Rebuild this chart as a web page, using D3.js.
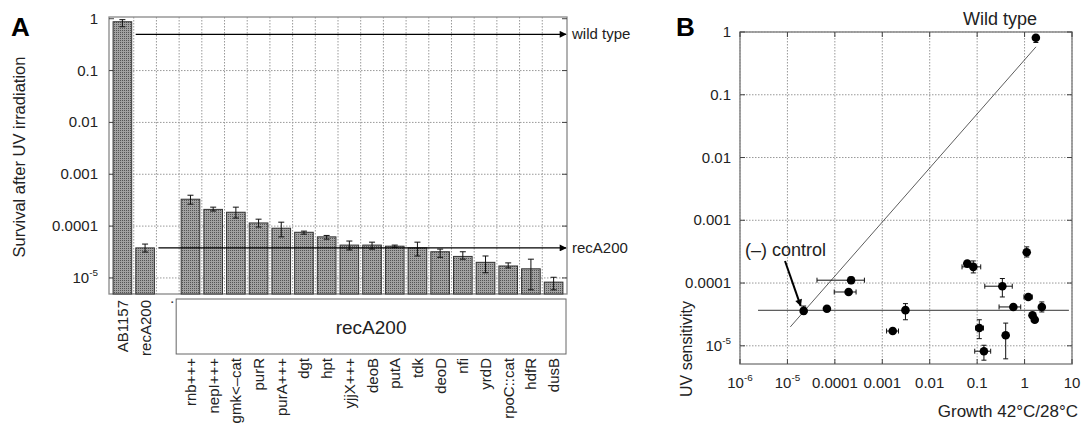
<!DOCTYPE html>
<html>
<head>
<meta charset="utf-8">
<script src="https://cdn.jsdelivr.net/npm/d3@7"></script>
<style>
  body { margin: 0; background: #fff; }
  svg { display: block; font-family: "Liberation Sans", Arial, sans-serif; }
</style>
</head>
<body>
<div id="chart"></div>
<script>
// ---- panel A data: survival after UV irradiation
const strains = ["AB1157", "recA200", ".", "rnb+++", "nepI+++", "gmk<\u2013cat", "purR", "purA+++", "dgt", "hpt",
  "yjjX+++", "deoB", "putA", "tdk", "deoD", "nfi", "yrdD", "rpoC::cat", "hdfR", "dusB"];
const survival = [0.875, 3.8e-5, null, 3.3e-4, 2.1e-4, 1.85e-4, 1.15e-4, 9.1e-5, 7.6e-5, 6.2e-5,
  4.3e-5, 4.3e-5, 4.1e-5, 3.8e-5, 3.2e-5, 2.6e-5, 2.0e-5, 1.7e-5, 1.5e-5, 8.3e-6];
const survivalLo = [0.70, 3.16e-5, null, 2.65e-4, 1.95e-4, 1.43e-4, 9.6e-5, 6.2e-5, 7.0e-5, 5.6e-5,
  3.47e-5, 3.6e-5, 3.9e-5, 2.65e-5, 2.5e-5, 2.3e-5, 1.26e-5, 1.56e-5, 5.9e-6, 5.9e-6];
const survivalHi = [0.96, 4.5e-5, null, 3.94e-4, 2.32e-4, 2.32e-4, 1.36e-4, 1.19e-4, 8.0e-5, 6.6e-5,
  5.15e-5, 4.9e-5, 4.3e-5, 4.9e-5, 3.6e-5, 3.2e-5, 2.65e-5, 1.95e-5, 2.3e-5, 1.03e-5];
const refLines = [{ label: "wild type", value: 0.5, from: "AB1157" }, { label: "recA200", value: 3.8e-5, from: "recA200" }];
const yTicksA = [1, 0.1, 0.01, 0.001, 0.0001, 1e-5];

// ---- panel B data: UV sensitivity vs growth 42/28
const growth =    [2.2e-5, 6.8e-5, 2.2e-4, 1.95e-4, 1.66e-3, 3.08e-3, 0.062, 0.083, 0.34, 1.11, 1.2, 0.58, 2.31, 1.47, 1.64, 0.111, 0.40, 0.139, 1.73];
const growthLo =  [null, null, 4.2e-5, 9.7e-5, 1.23e-3, null, null, 0.048, 0.145, null, 0.97, 0.29, null, null, null, 0.093, null, 0.089, null];
const growthHi =  [null, null, 4.2e-4, 2.8e-4, 2.2e-3, null, null, 0.119, 0.55, null, 1.45, 0.83, null, null, null, 0.136, null, 0.193, null];
const uvSens =    [3.6e-5, 3.9e-5, 1.11e-4, 7.2e-5, 1.72e-5, 3.7e-5, 2.04e-4, 1.81e-4, 8.9e-5, 3.1e-4, 6.0e-5, 4.16e-5, 4.16e-5, 3.06e-5, 2.6e-5, 1.92e-5, 1.47e-5, 8.2e-6, 0.81];
const uvSensLo =  [3.2e-5, null, 9.8e-5, null, null, 2.6e-5, null, 1.45e-4, 6.0e-5, 2.6e-4, null, null, 3.46e-5, null, null, 1.3e-5, 6.2e-6, 5.9e-6, 0.68];
const uvSensHi =  [4.3e-5, null, 1.25e-4, null, null, 4.7e-5, null, 2.25e-4, 1.18e-4, 3.77e-4, null, null, 5.0e-5, null, null, 2.6e-5, 2.3e-5, 1.02e-5, 0.84];
const fitX = [1.15e-5, 1.74];
const fitY = [2.0e-5, 0.58];
const controlX = [2.4e-6, 8.6];
const controlY = 3.68e-5;
const xTicksB = [1e-6, 1e-5, 1e-4, 1e-3, 0.01, 0.1, 1, 10];
const yTicksB = [1, 0.1, 0.01, 0.001, 0.0001, 1e-5];

const W = 1088, H = 424;
const svg = d3.select("#chart").append("svg").attr("width", W).attr("height", H);

const defs = svg.append("defs");
const pat = defs.append("pattern").attr("id", "dots").attr("width", 2).attr("height", 2).attr("patternUnits", "userSpaceOnUse");
pat.append("rect").attr("width", 2).attr("height", 2).attr("fill", "#a2a2a2");
pat.append("rect").attr("width", 1).attr("height", 1).attr("fill", "#555");
defs.append("marker").attr("id", "arrow").attr("viewBox", "0 0 10 10").attr("refX", 9).attr("refY", 5)
  .attr("markerWidth", 9).attr("markerHeight", 7).attr("markerUnits", "userSpaceOnUse").attr("orient", "auto")
  .append("path").attr("d", "M0,0L10,5L0,10z").attr("fill", "#000");

// label for log tick: decimal or 10^n for small values
function tickLabel(sel, v, x, y, anchor, size) {
  const t = sel.append("text").attr("x", x).attr("y", y).attr("text-anchor", anchor)
    .attr("font-size", size).attr("fill", "#222");
  if (v < 1e-4) {
    const e = Math.round(Math.log10(v));
    t.append("tspan").text("10");
    t.append("tspan").attr("dy", -7).attr("font-size", size * 0.66).text(e);
  } else {
    t.text(v === 0.0001 ? "0.0001" : String(v));
  }
  return t;
}

// ================= panel A =================
const ax = d3.scaleBand().domain(strains).range([109, 567]).paddingInner(0.18).paddingOuter(0.18);
const ay = d3.scaleLog().domain([4.9e-6, 1.08]).range([294, 17]);
const gA = svg.append("g");

// grid
gA.selectAll(".hg").data(yTicksA.slice(1)).join("line")
  .attr("x1", 109).attr("x2", 567).attr("y1", d => ay(d)).attr("y2", d => ay(d))
  .attr("stroke", "#999").attr("stroke-dasharray", "1.5,1.5");
gA.selectAll(".vg").data(strains.slice(1)).join("line")
  .attr("x1", d => ax(d) - ax.step() * 0.09).attr("x2", d => ax(d) - ax.step() * 0.09)
  .attr("y1", 17).attr("y2", 294)
  .attr("stroke", "#999").attr("stroke-dasharray", "1.5,1.5");

gA.append("rect").attr("x", 109).attr("y", 17).attr("width", 458).attr("height", 277)
  .attr("fill", "none").attr("stroke", "#888").attr("stroke-width", 1.3);
gA.selectAll(".tk").data(yTicksA).join("g").each(function (d) {
  const g = d3.select(this);
  g.append("line").attr("x1", 109).attr("x2", 114).attr("y1", ay(d)).attr("y2", ay(d)).attr("stroke", "#444");
  g.append("line").attr("x1", 562).attr("x2", 567).attr("y1", ay(d)).attr("y2", ay(d)).attr("stroke", "#444");
  tickLabel(g, d, 98, ay(d) + 5, "end", 15);
});

const barData = strains.map((s, i) => ({ s, v: survival[i], lo: survivalLo[i], hi: survivalHi[i] })).filter(d => d.v != null);
gA.selectAll(".bar").data(barData).join("rect")
  .attr("x", d => ax(d.s)).attr("width", ax.bandwidth())
  .attr("y", d => ay(d.v)).attr("height", d => 294 - ay(d.v))
  .attr("fill", "url(#dots)").attr("stroke", "#333").attr("stroke-width", 1);

const eb = gA.selectAll(".eb").data(barData).join("g").attr("stroke", "#111").attr("stroke-width", 1);
eb.append("line").attr("x1", d => ax(d.s) + ax.bandwidth() / 2).attr("x2", d => ax(d.s) + ax.bandwidth() / 2)
  .attr("y1", d => ay(d.lo)).attr("y2", d => ay(d.hi));
eb.append("line").attr("x1", d => ax(d.s) + ax.bandwidth() / 2 - 3).attr("x2", d => ax(d.s) + ax.bandwidth() / 2 + 3)
  .attr("y1", d => ay(d.lo)).attr("y2", d => ay(d.lo));
eb.append("line").attr("x1", d => ax(d.s) + ax.bandwidth() / 2 - 3).attr("x2", d => ax(d.s) + ax.bandwidth() / 2 + 3)
  .attr("y1", d => ay(d.hi)).attr("y2", d => ay(d.hi));

// reference arrows
refLines.forEach(r => {
  const x0 = ax(r.from) + ax.bandwidth() + 4;
  gA.append("line").attr("x1", x0).attr("x2", 566).attr("y1", ay(r.value)).attr("y2", ay(r.value))
    .attr("stroke", "#000").attr("stroke-width", 1.2).attr("marker-end", "url(#arrow)");
  gA.append("text").attr("x", 572).attr("y", ay(r.value) + 5).attr("font-size", 15).attr("fill", "#222").text(r.label);
});

// category labels
gA.selectAll(".xl").data(strains).join("text")
  .attr("transform", (d, i) => `translate(${ax(d) + ax.bandwidth() / 2 + 5.5},${i < 3 ? 300 : 358}) rotate(-90)`)
  .attr("text-anchor", "end").attr("font-size", 15).attr("fill", "#222").text(d => d);

// recA200 group box
const boxX0 = ax("rnb+++") - 5, boxX1 = 566;
gA.append("rect").attr("x", boxX0).attr("y", 299).attr("width", boxX1 - boxX0).attr("height", 55)
  .attr("fill", "#fff").attr("stroke", "#666");
gA.append("text").attr("x", (boxX0 + boxX1) / 2).attr("y", 334).attr("text-anchor", "middle")
  .attr("font-size", 19).attr("fill", "#222").text("recA200");

gA.append("text").attr("transform", "translate(25,157) rotate(-90)").attr("text-anchor", "middle")
  .attr("font-size", 16.5).attr("fill", "#222").text("Survival after UV irradiation");
gA.append("text").attr("x", 11).attr("y", 36).attr("font-size", 26).attr("font-weight", "bold").text("A");

// ================= panel B =================
const bx = d3.scaleLog().domain([1e-6, 10]).range([740, 1072]);
const by = d3.scaleLog().domain([Math.pow(10, -5.29), 1]).range([364, 32]);
const gB = svg.append("g");

gB.selectAll(".hg").data(yTicksB).join("line")
  .attr("x1", 740).attr("x2", 1072).attr("y1", d => by(d)).attr("y2", d => by(d))
  .attr("stroke", "#999").attr("stroke-dasharray", "1.5,1.5");
gB.selectAll(".vg").data(xTicksB).join("line")
  .attr("x1", d => bx(d)).attr("x2", d => bx(d)).attr("y1", 32).attr("y2", 364)
  .attr("stroke", "#999").attr("stroke-dasharray", "1.5,1.5");
gB.append("rect").attr("x", 740).attr("y", 32).attr("width", 332).attr("height", 332)
  .attr("fill", "none").attr("stroke", "#888").attr("stroke-width", 1.5);
gB.selectAll(".yt").data(yTicksB).join("g").each(function (d) {
  const g = d3.select(this);
  g.append("line").attr("x1", 740).attr("x2", 745).attr("y1", by(d)).attr("y2", by(d)).attr("stroke", "#444");
  g.append("line").attr("x1", 1067).attr("x2", 1072).attr("y1", by(d)).attr("y2", by(d)).attr("stroke", "#444");
  tickLabel(g, d, 731, by(d) + 5, "end", 15);
});
gB.selectAll(".xt").data(xTicksB).join("g").each(function (d) {
  const g = d3.select(this);
  g.append("line").attr("x1", bx(d)).attr("x2", bx(d)).attr("y1", 359).attr("y2", 364).attr("stroke", "#444");
  g.append("line").attr("x1", bx(d)).attr("x2", bx(d)).attr("y1", 32).attr("y2", 37).attr("stroke", "#444");
  tickLabel(g, d, bx(d), 388, "middle", 15);
});

// control line and fit
gB.append("line").attr("x1", bx(controlX[0])).attr("x2", bx(controlX[1]))
  .attr("y1", by(controlY)).attr("y2", by(controlY)).attr("stroke", "#333").attr("stroke-width", 1);
gB.append("line").attr("x1", bx(fitX[0])).attr("x2", bx(fitX[1]))
  .attr("y1", by(fitY[0])).attr("y2", by(fitY[1])).attr("stroke", "#333").attr("stroke-width", 0.8);

const pts = growth.map((g, i) => ({ x: g, y: uvSens[i], xl: growthLo[i], xh: growthHi[i], yl: uvSensLo[i], yh: uvSensHi[i] }));
const pe = gB.selectAll(".pe").data(pts).join("g").attr("stroke", "#111").attr("stroke-width", 1);
pe.each(function (d) {
  const g = d3.select(this);
  if (d.xl != null) {
    g.append("line").attr("x1", bx(d.xl)).attr("x2", bx(d.xh)).attr("y1", by(d.y)).attr("y2", by(d.y));
    [d.xl, d.xh].forEach(v => g.append("line").attr("x1", bx(v)).attr("x2", bx(v)).attr("y1", by(d.y) - 2.5).attr("y2", by(d.y) + 2.5));
  }
  if (d.yl != null) {
    g.append("line").attr("x1", bx(d.x)).attr("x2", bx(d.x)).attr("y1", by(d.yl)).attr("y2", by(d.yh));
    [d.yl, d.yh].forEach(v => g.append("line").attr("x1", bx(d.x) - 2.5).attr("x2", bx(d.x) + 2.5).attr("y1", by(v)).attr("y2", by(v)));
  }
});
gB.selectAll(".pt").data(pts).join("circle")
  .attr("cx", d => bx(d.x)).attr("cy", d => by(d.y)).attr("r", 4.3).attr("fill", "#000");

// annotations
gB.append("text").attr("x", 745).attr("y", 256).attr("font-size", 18).attr("fill", "#222").text("(\u2013) control");
gB.append("line").attr("x1", 785).attr("y1", 261).attr("x2", bx(growth[0]) - 3).attr("y2", by(uvSens[0]) - 5)
  .attr("stroke", "#000").attr("stroke-width", 2).attr("marker-end", "url(#arrow)");
gB.append("text").attr("x", 1000).attr("y", 25).attr("text-anchor", "middle").attr("font-size", 18).attr("fill", "#222").text("Wild type");
gB.append("text").attr("x", 1078).attr("y", 417).attr("text-anchor", "end").attr("font-size", 17).attr("fill", "#222").text("Growth 42°C/28°C");
gB.append("text").attr("transform", "translate(692,349) rotate(-90)").attr("text-anchor", "middle")
  .attr("font-size", 16).attr("fill", "#222").text("UV sensitivity");
gB.append("text").attr("x", 676).attr("y", 36).attr("font-size", 26).attr("font-weight", "bold").text("B");
</script>
</body>
</html>
